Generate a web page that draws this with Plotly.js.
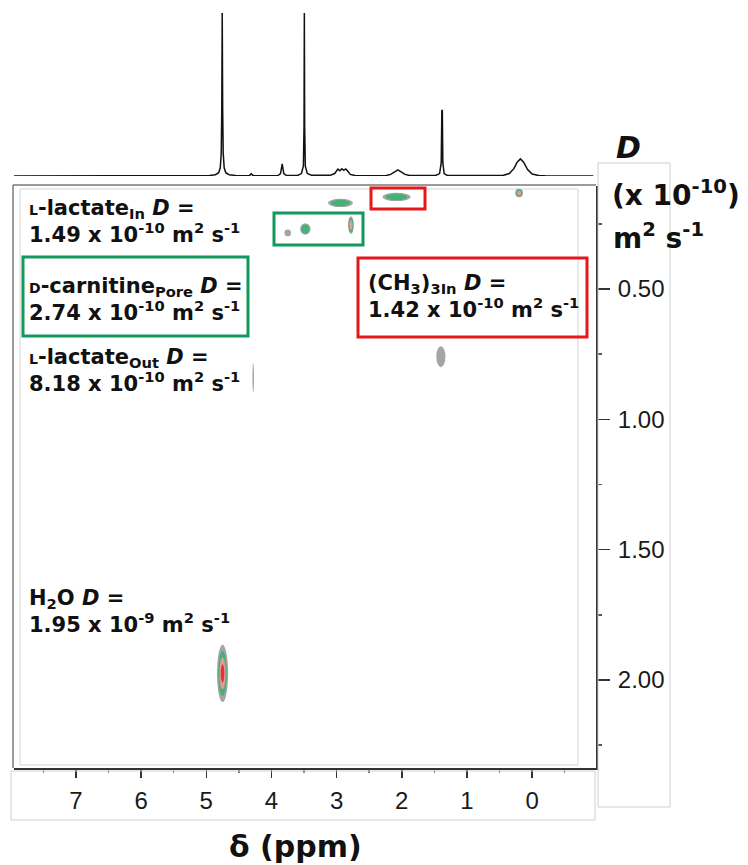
<!DOCTYPE html>
<html>
<head>
<meta charset="utf-8">
<script src="https://cdn.plot.ly/plotly-3.0.1.min.js"></script>
<style>html,body{margin:0;padding:0;background:#fff;}#chart{width:748px;height:865px;}</style>
</head>
<body>
<div id="chart"></div>
<script>
// ---- 1D 1H spectrum (projection on top), chemical shift in ppm and relative intensity ----
const specPpm = [7.95, 7.32, 7.28, 7.24, 5.00, 4.95, 4.86, 4.81, 4.785, 4.77, 4.762, 4.755, 4.748, 4.74, 4.725, 4.70, 4.65, 4.55,
  4.34, 4.31, 4.28, 3.90, 3.86, 3.845, 3.835, 3.825, 3.81, 3.77, 3.60, 3.54, 3.51, 3.50, 3.495, 3.49, 3.48, 3.45, 3.38,
  3.10, 3.03, 2.98, 2.95, 2.92, 2.89, 2.86, 2.83, 2.79, 2.72, 2.25, 2.17, 2.11, 2.06, 2.01, 1.95, 1.88,
  1.48, 1.42, 1.395, 1.385, 1.378, 1.37, 1.35, 1.30, 0.45, 0.35, 0.28, 0.23, 0.18, 0.13, 0.07, 0.00, -0.10, -0.20, -0.94];
const specInt = [0, 0, 0.4, 0, 0, 0.3, 0.8, 2, 5, 14, 40, 100, 40, 14, 5, 2, 0.8, 0.3,
  0.2, 1.3, 0.2, 0.3, 1.5, 5, 7.5, 5, 1.5, 0.3, 0.3, 1.5, 6, 30, 100, 30, 6, 1.5, 0.4,
  0.4, 1.5, 4.2, 3.2, 4.5, 3.5, 4.3, 3.0, 1.0, 0.3, 0.2, 1.0, 2.6, 3.8, 2.6, 1.0, 0.3,
  0.3, 1.5, 8, 40, 40.5, 8, 1.5, 0.3, 0.3, 1.5, 4.5, 8.5, 10.5, 8.5, 4.0, 1.2, 0.3, 0.1, 0];

// ---- 2D DOSY cross peaks: centre (ppm, D axis units), half extents, contour levels ----
const peakPpm    = [4.75, 4.28, 1.40, 2.94, 2.08, 0.20, 3.75, 3.48, 2.78];
const peakD      = [1.975, 0.84, 0.76, 0.17, 0.147, 0.132, 0.285, 0.27, 0.255];
const peakHalfW  = [0.085, 0.012, 0.07, 0.19, 0.215, 0.06, 0.05, 0.08, 0.045];
const peakHalfH  = [0.11, 0.055, 0.04, 0.016, 0.016, 0.016, 0.013, 0.022, 0.034];
const peakLevels = [4, 1, 1, 2, 2, 3, 1, 2, 3];

// ---- axis ticks ----
const xTickVals = [7, 6, 5, 4, 3, 2, 1, 0];
const xTickText = ['7', '6', '5', '4', '3', '2', '1', '0'];
const yTickVals = [0.5, 1.0, 1.5, 2.0];
const yTickText = ['0.50', '1.00', '1.50', '2.00'];

// ---- labels ----
const sc = s => '<span style="font-size:14px">' + s + '</span>';
const labelTexts = [
  sc('L') + '-lactate<sub>In</sub> <i>D</i> =<br>1.49 x 10<sup>-10</sup> m<sup>2</sup> s<sup>-1</sup>',
  sc('D') + '-carnitine<sub>Pore</sub> <i>D</i> =<br>2.74 x 10<sup>-10</sup> m<sup>2</sup> s<sup>-1</sup>',
  sc('L') + '-lactate<sub>Out</sub> <i>D</i> =<br>8.18 x 10<sup>-10</sup> m<sup>2</sup> s<sup>-1</sup>',
  '(CH<sub>3</sub>)<sub>3In</sub> <i>D</i> =<br>1.42 x 10<sup>-10</sup> m<sup>2</sup> s<sup>-1</sup>',
  'H<sub>2</sub>O <i>D</i> =<br>1.95 x 10<sup>-9</sup> m<sup>2</sup> s<sup>-1</sup>'
];

// ---------------- layout helpers ----------------
const L = 14, R = 596, T = 10, B = 768;
const PX = px => (px - L) / (R - L);
const PY = py => (B - py) / (B - T);
const xRange = [7.95, -0.98];
const yRange = [2.338, 0.105];
const GREEN = '#12985a', RED = '#e3191c';

const traces = [{
  type: 'scatter', mode: 'lines', x: specPpm, y: specInt, xaxis: 'x2', yaxis: 'y2',
  line: {color: '#111', width: 1.5}, hoverinfo: 'skip'
}, {
  type: 'scatter', mode: 'markers', x: peakPpm, y: peakD, xaxis: 'x', yaxis: 'y',
  marker: {size: 1, color: 'rgba(0,0,0,0)'}, hoverinfo: 'x+y'
}];

const shapes = [];
// frames
shapes.push({type: 'line', xref: 'paper', yref: 'paper', x0: PX(13), x1: PX(13), y0: PY(185), y1: PY(768), line: {color: '#7a7a7a', width: 1.5}});
shapes.push({type: 'line', xref: 'paper', yref: 'paper', x0: PX(13), x1: PX(596), y0: PY(185), y1: PY(185), line: {color: '#7a7a7a', width: 1.5}});
shapes.push({type: 'rect', xref: 'paper', yref: 'paper', x0: PX(20), x1: PX(578), y0: PY(189), y1: PY(765), line: {color: '#d4d4d4', width: 1}});
shapes.push({type: 'rect', xref: 'paper', yref: 'paper', x0: PX(11), x1: PX(595), y0: PY(771), y1: PY(820), line: {color: '#cfcfcf', width: 1}});
shapes.push({type: 'rect', xref: 'paper', yref: 'paper', x0: PX(598), x1: PX(670), y0: PY(163), y1: PY(807), line: {color: '#cfcfcf', width: 1}});

// DOSY peaks as nested contour ellipses
const levelColors = ['#8e8e8e', '#3cb371', '#f29a9a', '#e0282c'];
const levelScale = [1.0, 0.78, 0.55, 0.32];
for (let i = 0; i < peakPpm.length; i++) {
  for (let k = 0; k < peakLevels[i]; k++) {
    const s = levelScale[k];
    shapes.push({
      type: 'circle', xref: 'x', yref: 'y', layer: 'above',
      x0: peakPpm[i] + peakHalfW[i] * s, x1: peakPpm[i] - peakHalfW[i] * s,
      y0: peakD[i] - peakHalfH[i] * s, y1: peakD[i] + peakHalfH[i] * s,
      fillcolor: levelColors[k], opacity: k === 0 ? 0.8 : 0.9, line: {width: 0}
    });
  }
}

// highlight boxes
const box = (x0, x1, y0, y1, c) => ({type: 'rect', xref: 'paper', yref: 'paper', x0: PX(x0), x1: PX(x1), y0: PY(y0), y1: PY(y1), line: {color: c, width: 3}});
shapes.push(box(274, 363, 213, 245, GREEN));
shapes.push(box(371, 425, 188, 209, RED));
shapes.push(box(23, 248, 257, 336, GREEN));
shapes.push(box(358, 587, 258, 337, RED));

const txtFont = {family: 'DejaVu Sans, Arial, sans-serif', size: 21, color: '#111', weight: 'bold'};
const labelPos = [[27, 222], [27, 300], [27, 370], [366, 296], [27, 611]];
const annotations = labelTexts.map((t, i) => ({
  xref: 'paper', yref: 'paper', x: PX(labelPos[i][0]), y: PY(labelPos[i][1]),
  xanchor: 'left', yanchor: 'middle', align: 'left', showarrow: false, text: t, font: txtFont
}));
const bigFont = {family: 'DejaVu Sans, Arial, sans-serif', size: 28, color: '#111', weight: 'bold'};
annotations.push({xref: 'paper', yref: 'paper', x: PX(628), y: PY(147), xanchor: 'center', yanchor: 'middle', showarrow: false,
  text: '<i>D</i>', font: Object.assign({}, bigFont, {size: 30})});
annotations.push({xref: 'paper', yref: 'paper', x: PX(610), y: PY(193), xanchor: 'left', yanchor: 'middle', showarrow: false,
  text: '(x 10<sup>-10</sup>)', font: bigFont});
annotations.push({xref: 'paper', yref: 'paper', x: PX(611), y: PY(236), xanchor: 'left', yanchor: 'middle', showarrow: false,
  text: 'm<sup>2</sup> s<sup>-1</sup>', font: bigFont});
annotations.push({xref: 'paper', yref: 'paper', x: PX(295), y: PY(846), xanchor: 'center', yanchor: 'middle', showarrow: false,
  text: 'δ (ppm)', font: Object.assign({}, bigFont, {size: 30})});

const tickFont = {family: 'Liberation Sans, Arial, sans-serif', size: 24, color: '#1a1a1a'};

const layout = {
  width: 748, height: 865,
  margin: {l: L, r: 748 - R, t: T, b: 865 - B, pad: 0},
  paper_bgcolor: '#ffffff', plot_bgcolor: 'rgba(0,0,0,0)',
  showlegend: false,
  xaxis: {
    domain: [0, 1], anchor: 'y', range: xRange, tickmode: 'array', tickvals: xTickVals, ticktext: xTickText,
    ticks: 'outside', ticklen: 8, tickwidth: 1.5, tickcolor: '#333', ticklabelstandoff: 2,
    showline: true, linecolor: '#333', linewidth: 2, showgrid: false, zeroline: false, tickfont: tickFont,
    minor: {dtick: 0.5, ticks: 'outside', ticklen: 3, tickcolor: '#777', showgrid: false}
  },
  yaxis: {
    domain: [0, (B - 186) / (B - T)], anchor: 'x', side: 'right', range: yRange,
    tickmode: 'array', tickvals: yTickVals, ticktext: yTickText,
    ticks: 'outside', ticklen: 12, tickwidth: 1.5, tickcolor: '#333', ticklabelstandoff: 3,
    showline: true, linecolor: '#333', linewidth: 2, showgrid: false, zeroline: false, tickfont: tickFont,
    minor: {dtick: 0.25, tick0: 0, ticks: 'outside', ticklen: 4, tickcolor: '#555', showgrid: false}
  },
  xaxis2: {domain: [0, 1], anchor: 'y2', range: xRange, visible: false},
  yaxis2: {domain: [(B - 176) / (B - T), 1], anchor: 'x2', range: [0, 100 * (176 - T) / (176 - 13)], visible: false},
  shapes: shapes,
  annotations: annotations
};

Plotly.newPlot('chart', traces, layout, {displayModeBar: false, staticPlot: true});
</script>
</body>
</html>
